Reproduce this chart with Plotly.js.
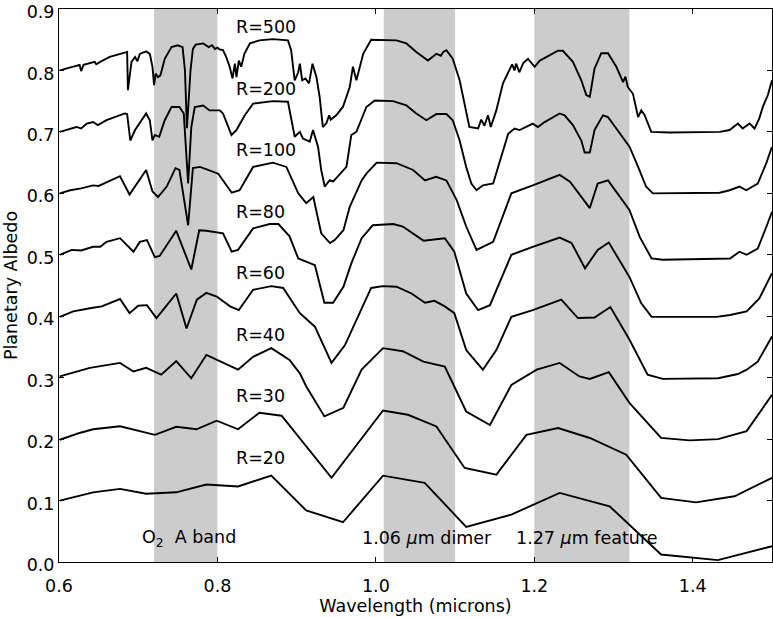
<!DOCTYPE html>
<html>
<head>
<meta charset="utf-8">
<script src="https://cdn.plot.ly/plotly-3.0.1.min.js"></script>
<style>html,body{margin:0;padding:0;background:#fff;}#chart{width:773px;height:617px;}</style>
</head>
<body>
<div id="chart"></div>
<script>
// ---- Data (wavelength in microns, planetary albedo with offsets) ----
const seriesNames = ["R=500","R=200","R=100","R=80","R=60","R=40","R=30","R=20"];

const r500_x = [0.601,0.626,0.628,0.631,0.645,0.647,0.652,0.664,0.683,0.686,0.687,0.6915,0.696,0.699,0.702,0.710,0.7146,0.718,0.720,0.722,0.725,0.728,0.7335,0.738,0.742,0.750,0.756,0.759,0.7615,0.766,0.769,0.7726,0.782,0.789,0.793,0.797,0.800,0.803,0.807,0.811,0.8155,0.819,0.822,0.824,0.827,0.830,0.834,0.841,0.853,0.870,0.889,0.893,0.8975,0.902,0.904,0.907,0.911,0.9156,0.920,0.925,0.929,0.933,0.9375,0.941,0.943,0.950,0.9585,0.967,0.971,0.9754,0.984,0.994,1.005,1.026,1.0385,1.051,1.0657,1.0764,1.082,1.085,1.089,1.097,1.1057,1.114,1.118,1.129,1.133,1.137,1.1415,1.145,1.152,1.1604,1.169,1.172,1.175,1.177,1.181,1.186,1.192,1.2004,1.207,1.215,1.2215,1.2298,1.236,1.2487,1.2593,1.2656,1.270,1.276,1.2845,1.293,1.3035,1.312,1.315,1.318,1.3245,1.331,1.335,1.339,1.3476,1.371,1.434,1.4465,1.457,1.463,1.4717,1.478,1.484,1.4885,1.4948,1.500];
const r500_y = [0.800,0.809,0.799,0.809,0.814,0.810,0.814,0.822,0.829,0.830,0.768,0.814,0.822,0.815,0.827,0.831,0.827,0.806,0.776,0.795,0.789,0.792,0.819,0.830,0.838,0.841,0.838,0.800,0.706,0.800,0.835,0.842,0.844,0.838,0.841,0.835,0.837,0.834,0.833,0.822,0.806,0.787,0.811,0.789,0.816,0.806,0.827,0.844,0.849,0.851,0.849,0.833,0.784,0.797,0.811,0.784,0.787,0.779,0.811,0.789,0.757,0.708,0.714,0.727,0.720,0.727,0.741,0.773,0.806,0.784,0.827,0.850,0.850,0.849,0.844,0.830,0.816,0.827,0.824,0.830,0.833,0.819,0.784,0.730,0.708,0.7055,0.720,0.710,0.727,0.708,0.735,0.779,0.803,0.810,0.800,0.811,0.797,0.812,0.819,0.806,0.816,0.822,0.827,0.832,0.832,0.814,0.784,0.760,0.757,0.803,0.828,0.828,0.806,0.781,0.790,0.773,0.762,0.724,0.735,0.728,0.700,0.699,0.700,0.703,0.7135,0.7055,0.7135,0.7055,0.722,0.741,0.760,0.784];

const r200_x = [0.601,0.622,0.628,0.635,0.643,0.649,0.660,0.683,0.686,0.690,0.696,0.710,0.7146,0.718,0.721,0.7265,0.7335,0.742,0.752,0.7575,0.763,0.767,0.7714,0.782,0.790,0.803,0.807,0.8177,0.824,0.8345,0.845,0.870,0.889,0.8975,0.904,0.908,0.9165,0.9206,0.927,0.931,0.9354,0.9417,0.946,0.952,0.9628,0.969,0.9754,0.988,0.9985,1.0216,1.0385,1.051,1.0637,1.0764,1.089,1.097,1.1057,1.114,1.1205,1.127,1.1352,1.148,1.1584,1.167,1.175,1.1815,1.198,1.2045,1.213,1.232,1.2382,1.2487,1.2593,1.2635,1.270,1.276,1.2866,1.293,1.3035,1.3203,1.331,1.341,1.3497,1.434,1.4465,1.459,1.4675,1.482,1.4928,1.4998];
const r200_y = [0.700,0.708,0.7055,0.7135,0.716,0.711,0.719,0.730,0.729,0.686,0.703,0.730,0.719,0.686,0.695,0.692,0.719,0.7405,0.7405,0.730,0.616,0.708,0.7405,0.743,0.735,0.735,0.730,0.695,0.703,0.727,0.746,0.750,0.749,0.692,0.700,0.689,0.684,0.703,0.6755,0.638,0.611,0.6215,0.619,0.627,0.643,0.695,0.700,0.7405,0.751,0.750,0.743,0.730,0.719,0.729,0.729,0.719,0.686,0.643,0.616,0.605,0.613,0.616,0.659,0.697,0.7055,0.703,0.7135,0.708,0.716,0.730,0.727,0.711,0.686,0.6665,0.6665,0.703,0.727,0.724,0.7055,0.6755,0.643,0.611,0.600,0.601,0.605,0.611,0.605,0.616,0.649,0.6755];

const r100_x = [0.601,0.614,0.628,0.643,0.650,0.677,0.689,0.700,0.710,0.718,0.725,0.736,0.747,0.752,0.763,0.769,0.778,0.801,0.818,0.828,0.845,0.870,0.887,0.902,0.912,0.921,0.931,0.942,0.948,0.959,0.967,0.982,0.988,1.001,1.026,1.047,1.062,1.076,1.089,1.102,1.114,1.127,1.148,1.160,1.171,1.198,1.215,1.232,1.245,1.270,1.280,1.293,1.320,1.333,1.348,1.362,1.447,1.459,1.468,1.482,1.493,1.500];
const r100_y = [0.600,0.605,0.608,0.613,0.612,0.628,0.598,0.619,0.638,0.603,0.594,0.611,0.641,0.638,0.548,0.641,0.643,0.632,0.601,0.605,0.643,0.650,0.643,0.600,0.584,0.594,0.535,0.519,0.524,0.540,0.578,0.621,0.632,0.650,0.649,0.638,0.621,0.627,0.621,0.589,0.546,0.508,0.521,0.562,0.600,0.613,0.622,0.630,0.619,0.576,0.616,0.621,0.573,0.529,0.494,0.492,0.494,0.505,0.500,0.510,0.546,0.570];

const r80_x = [0.601,0.616,0.628,0.643,0.652,0.660,0.677,0.694,0.702,0.711,0.721,0.727,0.748,0.767,0.777,0.786,0.807,0.818,0.826,0.845,0.866,0.877,0.891,0.902,0.923,0.935,0.946,0.959,0.969,0.982,0.996,1.022,1.034,1.047,1.060,1.087,1.099,1.114,1.129,1.144,1.158,1.171,1.198,1.232,1.247,1.264,1.280,1.294,1.320,1.335,1.348,1.362,1.430,1.447,1.468,1.484,1.500];
const r80_y = [0.500,0.508,0.507,0.513,0.513,0.521,0.527,0.505,0.521,0.524,0.496,0.498,0.539,0.476,0.540,0.539,0.535,0.505,0.508,0.543,0.550,0.550,0.530,0.494,0.483,0.422,0.422,0.448,0.486,0.527,0.548,0.550,0.546,0.535,0.523,0.527,0.505,0.437,0.410,0.418,0.459,0.500,0.513,0.528,0.519,0.478,0.508,0.520,0.464,0.421,0.399,0.399,0.399,0.402,0.408,0.429,0.470];

const r60_x = [0.601,0.618,0.639,0.654,0.677,0.689,0.700,0.711,0.723,0.748,0.761,0.774,0.786,0.799,0.816,0.827,0.845,0.868,0.883,0.904,0.923,0.944,0.961,0.977,0.994,1.009,1.026,1.045,1.062,1.074,1.087,1.099,1.114,1.135,1.152,1.171,1.198,1.234,1.255,1.276,1.296,1.320,1.343,1.362,1.432,1.457,1.468,1.482,1.500];
const r60_y = [0.399,0.408,0.413,0.416,0.428,0.405,0.417,0.418,0.397,0.437,0.380,0.427,0.438,0.432,0.416,0.410,0.443,0.449,0.446,0.405,0.383,0.324,0.353,0.399,0.446,0.449,0.448,0.437,0.422,0.425,0.416,0.405,0.345,0.313,0.345,0.399,0.410,0.427,0.397,0.398,0.415,0.362,0.305,0.298,0.299,0.306,0.313,0.326,0.367];

const r40_x = [0.601,0.639,0.677,0.694,0.710,0.729,0.748,0.767,0.786,0.826,0.845,0.868,0.891,0.904,0.912,0.935,0.959,0.982,1.009,1.034,1.060,1.087,1.114,1.144,1.171,1.203,1.232,1.257,1.270,1.294,1.320,1.360,1.396,1.432,1.468,1.500];
const r40_y = [0.302,0.316,0.324,0.310,0.316,0.305,0.327,0.299,0.337,0.313,0.334,0.348,0.329,0.307,0.286,0.237,0.251,0.313,0.348,0.343,0.326,0.318,0.245,0.223,0.288,0.313,0.324,0.302,0.298,0.309,0.259,0.202,0.198,0.200,0.213,0.272];

const r30_x = [0.601,0.626,0.643,0.677,0.721,0.748,0.7735,0.799,0.826,0.853,0.881,0.944,1.009,1.0405,1.0764,1.112,1.152,1.190,1.230,1.270,1.316,1.360,1.404,1.4527,1.500];
const r30_y = [0.199,0.210,0.216,0.221,0.207,0.220,0.216,0.230,0.216,0.243,0.238,0.137,0.2466,0.2396,0.2206,0.153,0.142,0.207,0.218,0.2018,0.1747,0.1043,0.097,0.107,0.137];

const r20_x = [0.601,0.643,0.677,0.710,0.748,0.786,0.826,0.868,0.912,0.9585,1.009,1.0616,1.114,1.171,1.232,1.295,1.360,1.4317,1.500];
const r20_y = [0.100,0.1134,0.119,0.111,0.1134,0.126,0.123,0.1405,0.084,0.0647,0.1405,0.1287,0.0572,0.0772,0.1124,0.0907,0.0122,0.003,0.0257];

const seriesX = [r500_x,r200_x,r100_x,r80_x,r60_x,r40_x,r30_x,r20_x];
const seriesY = [r500_y,r200_y,r100_y,r80_y,r60_y,r40_y,r30_y,r20_y];
const seriesLabelY = [0.87,0.77,0.67,0.57,0.47,0.37,0.27,0.17];

// Shaded absorption bands
const bandStart = [0.72, 1.01, 1.20];
const bandEnd   = [0.80, 1.10, 1.32];
const bandLabels = ["O<sub>2</sub>  A band", "1.06 <i>μ</i>m dimer", "1.27 <i>μ</i>m feature"];
const bandLabelX = [0.702, 0.9805, 1.174];

const xTicks = [0.6,0.8,1.0,1.2,1.4];
const xTickText = ["0.6","0.8","1.0","1.2","1.4"];
const yTicks = [0.0,0.1,0.2,0.3,0.4,0.5,0.6,0.7,0.8,0.9];
const yTickText = ["0.0","0.1","0.2","0.3","0.4","0.5","0.6","0.7","0.8","0.9"];

// ---- Build traces ----
const traces = seriesNames.map((name, i) => ({
  x: seriesX[i], y: seriesY[i], name: name,
  type: 'scatter', mode: 'lines',
  line: {color: '#000000', width: 1.9},
  hoverinfo: 'skip'
}));

const shapes = bandStart.map((s, i) => ({
  type: 'rect', xref: 'x', yref: 'paper',
  x0: s, x1: bandEnd[i], y0: 0, y1: 1,
  fillcolor: '#cccccc', line: {width: 0}, layer: 'below'
}));

const FONT = 'DejaVu Sans, Liberation Sans, sans-serif';
const annotations = [];
seriesNames.forEach((name, i) => {
  annotations.push({
    x: 0.8206, y: seriesLabelY[i], xref: 'x', yref: 'y',
    text: name, showarrow: false, xanchor: 'left', yanchor: 'middle',
    font: {family: FONT, size: 17.5, color: '#000'}
  });
});
bandLabels.forEach((t, i) => {
  annotations.push({
    x: bandLabelX[i], y: 0.039, xref: 'x', yref: 'y',
    text: t, showarrow: false, xanchor: 'left', yanchor: 'middle',
    font: {family: FONT, size: 17.5, color: '#000'}
  });
});

const axisCommon = {
  showgrid: false, zeroline: false,
  showline: true, linecolor: '#000', linewidth: 1,
  mirror: 'ticks', ticks: 'inside', ticklen: 5, tickwidth: 1, tickcolor: '#000',
  tickfont: {family: FONT, size: 17.5, color: '#000'}
};

const layout = {
  width: 773, height: 617,
  margin: {l: 59, r: 1, t: 9, b: 55},
  paper_bgcolor: '#ffffff', plot_bgcolor: '#ffffff',
  showlegend: false,
  font: {family: FONT, size: 17.5, color: '#000'},
  xaxis: Object.assign({}, axisCommon, {
    range: [0.6, 1.5], tickmode: 'array', tickvals: xTicks, ticktext: xTickText,
    ticklabelstandoff: 8,
    title: {text: 'Wavelength (microns)', font: {family: FONT, size: 17.5, color: '#000'}, standoff: 2}
  }),
  yaxis: Object.assign({}, axisCommon, {
    range: [0, 0.9], tickmode: 'array', tickvals: yTicks, ticktext: yTickText,
    ticklabelshift: 3,
    title: {text: 'Planetary Albedo', font: {family: FONT, size: 17.5, color: '#000'}, standoff: 4}
  }),
  shapes: shapes,
  annotations: annotations
};

Plotly.newPlot('chart', traces, layout, {displayModeBar: false, staticPlot: true});
</script>
</body>
</html>
